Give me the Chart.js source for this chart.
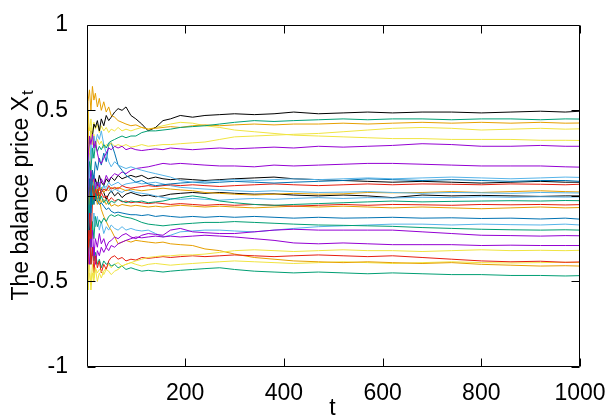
<!DOCTYPE html>
<html>
<head>
<meta charset="utf-8">
<script src="https://cdn.jsdelivr.net/npm/chart.js@4/dist/chart.umd.min.js"></script>
<style>
  html, body { margin: 0; padding: 0; background: #fff; }
</style>
</head>
<body>
<canvas id="chart" width="611" height="420"></canvas>
<script>
const T = [1, 3, 6, 9, 12, 15, 18, 22, 26, 30, 35, 40, 45, 50, 57, 64, 72, 80, 90, 100,
  112, 125, 140, 155, 170, 190, 215, 240, 270, 300, 340, 380, 420, 470, 520, 570, 620, 680, 740, 800,
  860, 920, 970, 1000];

const X_TICKS = [200, 400, 600, 800, 1000];
const Y_TICKS = [-1, -0.5, 0, 0.5, 1];

// paths (upper group)
const blackA = [0.10,0.25,0.30,0.38,0.35,0.42,0.40,0.44,0.38,0.45, 0.41,0.47,0.44,0.46,0.49,0.51,0.50,0.52,0.47,0.45,
  0.42,0.38,0.40,0.44,0.45,0.47,0.46,0.47,0.475,0.48, 0.475,0.48,0.49,0.48,0.485,0.49,0.485,0.49,0.49,0.485, 0.49,0.495,0.49,0.495];
const orangeA = [0.30,0.55,0.62,0.50,0.64,0.56,0.60,0.52,0.57,0.50, 0.55,0.49,0.52,0.47,0.46,0.44,0.43,0.42,0.41,0.415,
  0.40,0.39,0.395,0.40,0.405,0.40,0.41,0.415,0.41,0.415, 0.42,0.415,0.42,0.42,0.425,0.42,0.425,0.43,0.425,0.43, 0.425,0.43,0.425,0.426];
const greenA = [-0.10,0.10,0.20,0.15,0.28,0.22,0.30,0.26,0.29,0.27, 0.30,0.28,0.31,0.32,0.33,0.34,0.35,0.34,0.35,0.35,
  0.37,0.38,0.38,0.385,0.39,0.40,0.405,0.41,0.42,0.43, 0.44,0.435,0.44,0.445,0.45,0.445,0.45,0.45,0.445,0.45, 0.45,0.445,0.45,0.449];
const yellowA = [0.10,0.35,0.25,0.40,0.30,0.36,0.28,0.33,0.30,0.32, 0.28,0.30,0.29,0.31,0.29,0.30,0.29,0.30,0.285,0.29,
  0.30,0.29,0.295,0.30,0.30,0.305,0.31,0.315,0.33,0.345, 0.35,0.355,0.36,0.365,0.375,0.385,0.395,0.40,0.395,0.385, 0.39,0.395,0.39,0.392];
const yellowB = [0.25,0.50,0.38,0.45,0.36,0.43,0.39,0.42,0.37,0.41, 0.38,0.40,0.37,0.39,0.38,0.40,0.38,0.39,0.38,0.39,
  0.40,0.39,0.40,0.41,0.42,0.43,0.425,0.41,0.40,0.385, 0.375,0.365,0.355,0.35,0.345,0.34,0.335,0.335,0.33,0.33, 0.33,0.325,0.325,0.324];
const purpleA = [0.00,0.20,0.35,0.30,0.36,0.28,0.32,0.25,0.20,0.19, 0.22,0.25,0.28,0.27,0.29,0.28,0.29,0.27,0.28,0.27,
  0.265,0.27,0.275,0.27,0.28,0.275,0.27,0.275,0.28,0.275, 0.28,0.285,0.28,0.29,0.285,0.29,0.295,0.305,0.30,0.29, 0.29,0.295,0.29,0.29];
const purpleB = [-0.10,0.10,0.05,0.15,0.08,0.12,0.04,0.08,0.05,0.10, 0.07,0.12,0.09,0.11,0.13,0.12,0.14,0.13,0.15,0.16,
  0.165,0.17,0.18,0.19,0.185,0.19,0.185,0.18,0.175,0.175, 0.17,0.18,0.175,0.18,0.185,0.19,0.19,0.185,0.18,0.175, 0.175,0.175,0.17,0.168];

// paths (middle group)
const lightBlueA = [0.05,0.25,0.15,0.30,0.22,0.35,0.30,0.36,0.33,0.38, 0.30,0.25,0.20,0.17,0.20,0.18,0.17,0.16,0.17,0.16,
  0.15,0.14,0.13,0.12,0.11,0.09,0.08,0.085,0.09,0.095, 0.09,0.095,0.10,0.095,0.10,0.105,0.10,0.105,0.11,0.105, 0.10,0.105,0.11,0.108];
const blueA = [-0.20,0.00,0.10,-0.05,0.15,0.10,0.20,0.15,0.22,0.18, 0.25,0.20,0.30,0.31,0.25,0.18,0.15,0.12,0.10,0.08,
  0.09,0.07,0.06,0.065,0.07,0.075,0.08,0.075,0.08,0.085, 0.08,0.075,0.08,0.085,0.09,0.10,0.095,0.09,0.095,0.09, 0.085,0.09,0.09,0.085];
const blackB = [0.00,-0.10,0.05,-0.05,0.08,0.02,0.10,0.05,0.12,0.08, 0.06,0.10,0.08,0.11,0.09,0.12,0.10,0.11,0.12,0.11,
  0.12,0.10,0.11,0.10,0.095,0.10,0.095,0.09,0.095,0.10, 0.105,0.11,0.10,0.095,0.09,0.085,0.08,0.085,0.08,0.075, 0.08,0.085,0.08,0.08];
const redA = [0.10,-0.05,0.08,0.02,0.06,-0.02,0.04,0.00,0.05,0.02, 0.04,0.03,0.06,0.04,0.05,0.04,0.06,0.05,0.045,0.05,
  0.055,0.06,0.055,0.06,0.065,0.06,0.065,0.06,0.055,0.06, 0.065,0.07,0.065,0.06,0.065,0.07,0.065,0.07,0.068,0.065, 0.07,0.068,0.065,0.068];
const orangeB = [-0.10,0.10,-0.05,0.12,0.05,0.10,0.02,0.06,0.03,0.05, 0.02,0.04,0.03,0.05,0.04,0.05,0.04,0.03,0.04,0.035,
  0.03,0.035,0.04,0.045,0.04,0.035,0.03,0.02,0.015,0.01, 0.005,0.01,0.015,0.01,0.012,0.02,0.018,0.02,0.025,0.02, 0.025,0.03,0.025,0.023];
const lightBlueB = [0.20,0.00,0.15,0.05,0.10,0.00,0.08,0.04,0.07,0.02, 0.06,0.05,0.08,0.06,0.07,0.08,0.06,0.07,0.075,0.08,
  0.07,0.075,0.08,0.07,0.06,0.05,0.045,0.04,0.035,0.03, 0.025,0.03,0.025,0.02,0.022,0.025,0.02,0.015,0.02,0.018, 0.015,0.02,0.018,0.017];
const blackC = [-0.30,-0.10,-0.20,0.05,-0.05,0.02,-0.03,0.05,0.00,0.04, 0.02,-0.02,0.01,0.03,0.00,0.02,-0.01,0.01,0.02,0.01,
  0.00,0.005,-0.005,0.00,0.01,0.015,0.02,0.015,0.02,0.015, 0.01,0.012,0.005,0.00,0.005,0.00,-0.01,0.005,0.00,0.003, 0.00,-0.003,0.00,0.00];
const lightBlueC = [0.30,0.10,0.20,0.00,0.12,0.05,0.10,0.02,0.08,0.04, 0.06,0.03,0.05,0.02,0.04,0.03,0.02,0.035,0.03,0.02,
  0.015,0.01,0.00,-0.01,-0.015,-0.02,-0.015,-0.02,-0.025,-0.02, -0.015,-0.02,-0.015,-0.01,-0.015,-0.01,-0.012,-0.008,-0.01,-0.005, -0.008,-0.005,-0.007,-0.006];
const greenB = [-0.20,0.05,-0.10,0.10,-0.05,0.06,-0.02,0.03,-0.03,0.00, -0.04,-0.02,-0.05,-0.03,-0.04,-0.02,-0.03,-0.04,-0.03,-0.035,
  -0.03,-0.04,-0.035,-0.03,-0.02,-0.01,0.00,-0.01,-0.03,-0.04, -0.05,-0.055,-0.05,-0.045,-0.04,-0.035,-0.03,-0.035,-0.032,-0.03, -0.028,-0.03,-0.027,-0.028];
const redB = [-0.40,-0.20,-0.10,-0.25,-0.05,0.03,-0.02,0.04,-0.02,0.02, -0.01,0.00,-0.03,-0.01,-0.03,-0.02,-0.035,-0.03,-0.04,-0.035,
  -0.04,-0.045,-0.04,-0.045,-0.05,-0.045,-0.05,-0.055,-0.05,-0.055, -0.05,-0.055,-0.06,-0.055,-0.05,-0.055,-0.05,-0.052,-0.055,-0.05, -0.052,-0.05,-0.053,-0.051];
const orangeC = [0.40,0.20,0.30,0.10,0.15,-0.05,0.05,-0.02,0.02,-0.04, -0.02,-0.05,-0.03,-0.06,-0.05,-0.06,-0.05,-0.055,-0.06,-0.055,
  -0.06,-0.065,-0.06,-0.065,-0.06,-0.055,-0.06,-0.065,-0.06,-0.065, -0.07,-0.065,-0.06,-0.065,-0.06,-0.065,-0.07,-0.065,-0.07,-0.075, -0.07,-0.065,-0.07,-0.068];

// paths (lower group)
const blueB = [0.20,0.00,0.10,-0.10,0.00,-0.05,0.02,-0.03,-0.05,-0.04, -0.06,-0.08,-0.07,-0.09,-0.10,-0.095,-0.10,-0.105,-0.11,-0.11,
  -0.115,-0.11,-0.12,-0.115,-0.12,-0.125,-0.12,-0.125,-0.12,-0.125, -0.12,-0.125,-0.13,-0.125,-0.13,-0.128,-0.125,-0.13,-0.128,-0.132, -0.13,-0.135,-0.13,-0.136];
const lightBlueD = [-0.30,-0.10,-0.25,-0.05,-0.20,-0.10,-0.18,-0.12,-0.20,-0.15, -0.22,-0.18,-0.20,-0.17,-0.19,-0.20,-0.18,-0.20,-0.19,-0.20,
  -0.205,-0.20,-0.22,-0.24,-0.23,-0.21,-0.205,-0.20,-0.20,-0.205, -0.21,-0.20,-0.19,-0.18,-0.175,-0.17,-0.165,-0.165,-0.17,-0.165, -0.168,-0.17,-0.165,-0.17];
const greenC = [0.00,-0.20,-0.10,-0.30,-0.15,-0.25,-0.12,-0.18,-0.14,-0.16, -0.13,-0.15,-0.12,-0.11,-0.12,-0.11,-0.12,-0.125,-0.13,-0.14,
  -0.155,-0.165,-0.17,-0.175,-0.17,-0.165,-0.16,-0.155,-0.155,-0.15, -0.155,-0.16,-0.165,-0.17,-0.172,-0.175,-0.178,-0.185,-0.19,-0.195, -0.198,-0.20,-0.198,-0.20];
const purpleC = [0.10,-0.15,-0.05,-0.30,-0.20,-0.35,-0.25,-0.30,-0.22,-0.28, -0.25,-0.30,-0.27,-0.26,-0.24,-0.25,-0.23,-0.22,-0.24,-0.25,
  -0.23,-0.22,-0.225,-0.23,-0.20,-0.19,-0.21,-0.215,-0.22,-0.22, -0.21,-0.20,-0.195,-0.20,-0.20,-0.20,-0.20,-0.21,-0.22,-0.23, -0.232,-0.235,-0.232,-0.233];
const purpleD = [-0.50,-0.30,-0.40,-0.20,-0.35,-0.30,-0.40,-0.32,-0.35,-0.30, -0.33,-0.30,-0.32,-0.29,-0.30,-0.28,-0.27,-0.26,-0.25,-0.24,
  -0.245,-0.24,-0.235,-0.24,-0.235,-0.24,-0.235,-0.23,-0.235,-0.24, -0.25,-0.26,-0.275,-0.28,-0.275,-0.28,-0.285,-0.285,-0.285,-0.29, -0.288,-0.29,-0.29,-0.29];
const yellowC = [-0.40,-0.55,-0.45,-0.52,-0.40,-0.48,-0.42,-0.45,-0.43,-0.44, -0.46,-0.43,-0.44,-0.46,-0.44,-0.43,-0.41,-0.40,-0.39,-0.38,
  -0.37,-0.36,-0.355,-0.35,-0.35,-0.345,-0.345,-0.34,-0.33,-0.32, -0.315,-0.32,-0.325,-0.32,-0.315,-0.32,-0.32,-0.325,-0.32,-0.315, -0.32,-0.318,-0.32,-0.318];
const redC = [-0.10,-0.30,-0.20,-0.40,-0.30,-0.45,-0.35,-0.42,-0.38,-0.45, -0.40,-0.43,-0.38,-0.36,-0.35,-0.37,-0.36,-0.38,-0.37,-0.375,
  -0.36,-0.365,-0.36,-0.355,-0.36,-0.355,-0.35,-0.355,-0.35,-0.345, -0.35,-0.355,-0.35,-0.345,-0.35,-0.355,-0.35,-0.36,-0.37,-0.38, -0.385,-0.382,-0.388,-0.386];
const orangeD = [0.20,0.00,0.10,-0.05,0.05,-0.02,0.00,-0.05,-0.02,-0.08, -0.12,-0.15,-0.18,-0.20,-0.24,-0.28,-0.27,-0.26,-0.27,-0.26,
  -0.265,-0.27,-0.275,-0.27,-0.28,-0.285,-0.29,-0.31,-0.32,-0.34, -0.36,-0.37,-0.38,-0.385,-0.39,-0.385,-0.39,-0.395,-0.39,-0.40, -0.405,-0.41,-0.408,-0.41];
const yellowD = [-0.30,-0.50,-0.40,-0.55,-0.45,-0.50,-0.42,-0.50,-0.45,-0.48, -0.44,-0.42,-0.40,-0.42,-0.40,-0.39,-0.41,-0.40,-0.39,-0.40,
  -0.41,-0.40,-0.395,-0.40,-0.405,-0.40,-0.395,-0.39,-0.385,-0.38, -0.385,-0.39,-0.395,-0.39,-0.385,-0.39,-0.395,-0.39,-0.385,-0.39, -0.392,-0.39,-0.388,-0.39];
const greenD = [-0.20,-0.35,-0.25,-0.40,-0.30,-0.38,-0.33,-0.40,-0.37,-0.42, -0.38,-0.40,-0.39,-0.41,-0.40,-0.42,-0.41,-0.43,-0.42,-0.43,
  -0.44,-0.435,-0.44,-0.445,-0.44,-0.435,-0.43,-0.425,-0.42,-0.43, -0.44,-0.445,-0.45,-0.445,-0.45,-0.455,-0.45,-0.455,-0.46,-0.46, -0.465,-0.465,-0.468,-0.466];

// gnuplot default line colours
const PURPLE = '#9400d3', GREEN = '#009e73', LIGHTBLUE = '#56b4e9', ORANGE = '#e69f00',
  YELLOW = '#f0e442', BLUE = '#0072b2', RED = '#e51e10', BLACK = '#000000';

const paths = [
  [purpleA, PURPLE], [greenA, GREEN], [lightBlueA, LIGHTBLUE], [orangeA, ORANGE],
  [yellowA, YELLOW], [blueA, BLUE], [redA, RED], [blackA, BLACK],
  [purpleB, PURPLE], [greenB, GREEN], [lightBlueB, LIGHTBLUE], [orangeB, ORANGE],
  [yellowB, YELLOW], [blueB, BLUE], [redB, RED], [blackB, BLACK],
  [purpleC, PURPLE], [greenC, GREEN], [lightBlueC, LIGHTBLUE], [orangeC, ORANGE],
  [yellowC, YELLOW], [redC, RED], [blackC, BLACK],
  [purpleD, PURPLE], [greenD, GREEN], [lightBlueD, LIGHTBLUE], [orangeD, ORANGE], [yellowD, YELLOW]
];

const FONT = "'Liberation Sans', Arial, Helvetica, sans-serif";

// frame, inward ticks and axis titles like gnuplot
const gnuplotFrame = {
  id: 'gnuplotFrame',
  afterDraw(chart) {
    const { ctx, chartArea: a, scales: { x, y } } = chart;
    const L = Math.round(a.left) + 0.5, R = Math.round(a.right) - 0.5;
    const Tp = Math.round(a.top) + 0.5, B = Math.round(a.bottom) - 0.5;
    ctx.save();
    ctx.strokeStyle = '#000';
    ctx.lineWidth = 1;
    ctx.beginPath();
    ctx.rect(L, Tp, R - L, B - Tp);
    X_TICKS.forEach(v => {
      const px = Math.round(x.getPixelForValue(v)) + 0.5;
      ctx.moveTo(px, B); ctx.lineTo(px, B - 8);
      ctx.moveTo(px, Tp); ctx.lineTo(px, Tp + 8);
    });
    Y_TICKS.forEach(v => {
      const py = Math.round(y.getPixelForValue(v)) + 0.5;
      ctx.moveTo(L, py); ctx.lineTo(L + 8, py);
      ctx.moveTo(R, py); ctx.lineTo(R - 8, py);
    });
    ctx.stroke();

    ctx.fillStyle = '#000';
    // x title
    ctx.font = `23px ${FONT}`;
    ctx.textAlign = 'center';
    ctx.textBaseline = 'alphabetic';
    ctx.fillText('t', (a.left + a.right) / 2 - 1, 415);

    // y title with subscript
    const main = 'The balance price X', sub = 't';
    ctx.font = `23px ${FONT}`;
    const wMain = ctx.measureText(main).width;
    ctx.font = `17px ${FONT}`;
    const wSub = ctx.measureText(sub).width;
    ctx.translate(28, (a.top + a.bottom) / 2);
    ctx.rotate(-Math.PI / 2);
    ctx.textAlign = 'left';
    const start = -(wMain + wSub) / 2;
    ctx.font = `23px ${FONT}`;
    ctx.fillText(main, start, 0);
    ctx.font = `17px ${FONT}`;
    ctx.fillText(sub, start + wMain + 1, 5);
    ctx.restore();
  }
};

new Chart(document.getElementById('chart'), {
  type: 'line',
  data: {
    datasets: paths.map(([vals, color]) => ({
      data: T.map((t, i) => ({ x: t, y: vals[i] })),
      borderColor: color,
      borderWidth: 1,
      pointRadius: 0,
      fill: false,
      tension: 0
    }))
  },
  options: {
    responsive: false,
    animation: false,
    devicePixelRatio: 1,
    layout: { padding: { top: 15, right: 31, left: 0, bottom: 0 } },
    plugins: { legend: { display: false }, tooltip: { enabled: false } },
    scales: {
      x: {
        type: 'linear',
        min: 1,
        max: 1000,
        afterFit: s => { s.height = 53; },
        afterBuildTicks: s => { s.ticks = X_TICKS.map(v => ({ value: v })); },
        grid: { display: false },
        border: { display: false },
        ticks: {
          font: { family: FONT, size: 23 }, color: '#000', padding: 5, maxRotation: 0, autoSkip: false,
          callback: v => String(v)
        }
      },
      y: {
        min: -1,
        max: 1,
        afterFit: s => { s.width = 87; },
        afterBuildTicks: s => { s.ticks = Y_TICKS.map(v => ({ value: v })); },
        grid: { display: false },
        border: { display: false },
        ticks: {
          font: { family: FONT, size: 23 }, color: '#000', padding: 11,
          callback: v => String(v)
        }
      }
    }
  },
  plugins: [gnuplotFrame]
});
</script>
</body>
</html>
